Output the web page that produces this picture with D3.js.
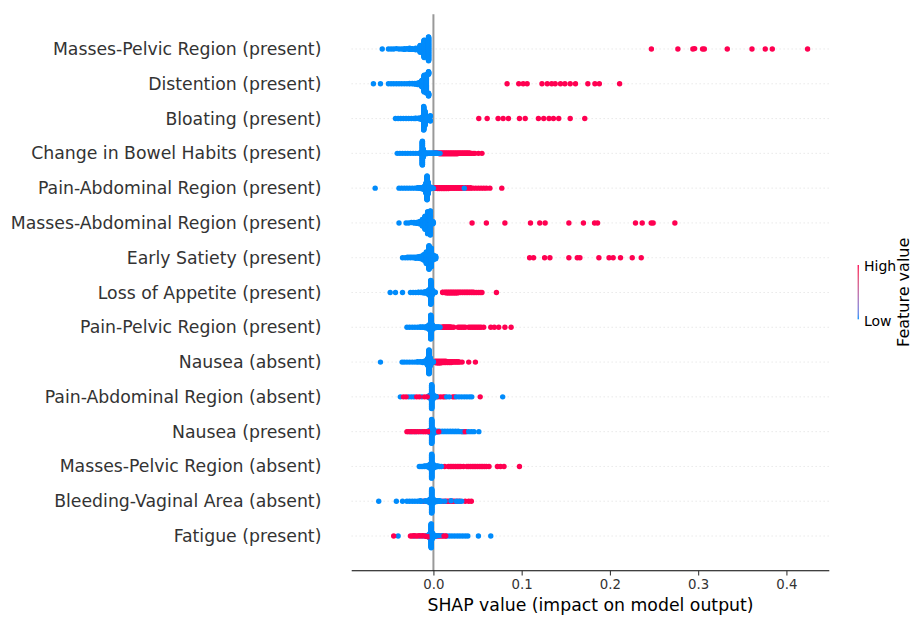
<!DOCTYPE html>
<html><head><meta charset="utf-8">
<script src="https://cdn.jsdelivr.net/npm/d3@7"></script>
<style>
body{margin:0;background:#fff}
svg{display:block;font-family:"DejaVu Sans",sans-serif}
</style></head>
<body><svg id="chart" width="912" height="617"></svg>
<script>
// ---------------- DATA ----------------
const features = [
  "Masses-Pelvic Region (present)",
  "Distention (present)",
  "Bloating (present)",
  "Change in Bowel Habits (present)",
  "Pain-Abdominal Region (present)",
  "Masses-Abdominal Region (present)",
  "Early Satiety (present)",
  "Loss of Appetite (present)",
  "Pain-Pelvic Region (present)",
  "Nausea (absent)",
  "Pain-Abdominal Region (absent)",
  "Nausea (present)",
  "Masses-Pelvic Region (absent)",
  "Bleeding-Vaginal Area (absent)",
  "Fatigue (present)"
];

// [SHAP value, number of samples] for low feature value (blue)
const lowPoints = [
  [[-0.058,1],[-0.051,1],[-0.048,1],[-0.045,1],[-0.042,1],[-0.039,1],[-0.036,1],[-0.033,2],[-0.030,2],[-0.027,2],[-0.024,3],[-0.020,5],[-0.015,18],[-0.0105,44],[-0.0055,60]],
  [[-0.068,1],[-0.060,1],[-0.051,1],[-0.048,1],[-0.045,1],[-0.042,1],[-0.039,1],[-0.036,1],[-0.033,1],[-0.030,1],[-0.027,2],[-0.024,2],[-0.021,3],[-0.018,5],[-0.0155,8],[-0.013,20],[-0.0105,50],[-0.008,55],[-0.0055,18]],
  [[-0.043,1],[-0.040,1],[-0.037,1],[-0.034,1],[-0.031,1],[-0.028,1],[-0.025,1],[-0.022,1],[-0.020,2],[-0.017,2],[-0.015,3],[-0.013,6],[-0.011,50],[-0.0095,30],[-0.007,6],[-0.005,8],[-0.0035,4]],
  [[-0.041,1],[-0.038,1],[-0.035,1],[-0.032,1],[-0.029,1],[-0.026,1],[-0.023,1],[-0.020,1],[-0.017,1],[-0.015,2],[-0.0135,6],[-0.0125,60],[-0.0115,20],[-0.010,4],[-0.008,3],[-0.006,2],[-0.004,2],[-0.002,2],[0.000,2],[0.002,2],[0.004,2],[0.006,1],[0.0075,1]],
  [[-0.066,1],[-0.039,1],[-0.036,1],[-0.033,1],[-0.030,1],[-0.027,1],[-0.024,1],[-0.021,1],[-0.018,2],[-0.016,2],[-0.014,3],[-0.012,5],[-0.010,10],[-0.0085,25],[-0.0072,60],[-0.006,30],[-0.0045,8],[-0.003,3],[-0.0015,2],[0.000,1],[0.035,1]],
  [[-0.039,1],[-0.031,1],[-0.028,1],[-0.025,1],[-0.022,2],[-0.019,3],[-0.016,6],[-0.0125,16],[-0.0095,30],[-0.0065,50],[-0.0035,55],[-0.0005,6]],
  [[-0.035,1],[-0.032,1],[-0.029,2],[-0.026,2],[-0.023,2],[-0.020,3],[-0.017,4],[-0.014,6],[-0.011,12],[-0.008,25],[-0.005,50],[-0.0025,40],[0.000,10],[0.0025,6]],
  [[-0.049,1],[-0.043,1],[-0.035,1],[-0.026,1],[-0.023,1],[-0.020,1],[-0.017,2],[-0.014,2],[-0.011,3],[-0.009,4],[-0.007,6],[-0.005,14],[-0.003,60],[-0.0015,14],[0.000,4],[0.002,2]],
  [[-0.030,1],[-0.027,1],[-0.024,1],[-0.021,1],[-0.018,1],[-0.015,2],[-0.012,2],[-0.009,3],[-0.007,4],[-0.005,12],[-0.003,60],[-0.0015,14],[0.000,5],[0.002,3],[0.004,2],[0.006,2],[0.0075,1]],
  [[-0.060,1],[-0.0355,1],[-0.033,1],[-0.030,1],[-0.027,1],[-0.024,1],[-0.021,1],[-0.018,2],[-0.015,2],[-0.012,3],[-0.010,4],[-0.008,8],[-0.0065,18],[-0.005,60],[-0.0035,20],[-0.002,5],[0.000,2]],
  [[-0.0375,1],[-0.028,1],[-0.025,1],[-0.022,1],[-0.013,1],[-0.006,2],[-0.004,8],[-0.002,60],[-0.0005,12],[0.001,3],[0.003,2],[0.015,1],[0.018,1],[0.026,1],[0.029,1],[0.032,1],[0.035,1],[0.038,1],[0.041,1],[0.0435,1],[0.0785,1]],
  [[-0.026,1],[-0.020,1],[-0.014,1],[-0.006,2],[-0.004,6],[-0.002,60],[-0.0005,14],[0.001,4],[0.003,3],[0.005,2],[0.007,2],[0.010,2],[0.013,2],[0.016,2],[0.019,2],[0.022,2],[0.025,2],[0.028,2],[0.031,1],[0.034,1],[0.037,1],[0.040,1],[0.043,1],[0.046,1],[0.0515,1]],
  [[-0.016,1],[-0.014,1],[-0.012,1],[-0.010,2],[-0.008,2],[-0.006,4],[-0.004,10],[-0.002,60],[-0.0005,12],[0.001,5],[0.003,3],[0.005,2],[0.007,1],[0.009,1]],
  [[-0.062,1],[-0.042,1],[-0.035,1],[-0.030,1],[-0.027,1],[-0.024,1],[-0.021,1],[-0.018,1],[-0.015,2],[-0.013,1],[-0.009,2],[-0.006,3],[-0.004,10],[-0.002,60],[-0.0005,12],[0.001,4],[0.003,3],[0.005,2],[0.007,2],[0.009,1],[0.013,1],[0.020,1],[0.026,1],[0.029,1],[0.032,1]],
  [[-0.040,1],[-0.022,1],[-0.016,1],[-0.012,1],[-0.008,2],[-0.006,4],[-0.004,12],[-0.0025,60],[-0.001,14],[0.001,4],[0.003,2],[0.006,1],[0.010,1],[0.015,1],[0.018,1],[0.021,1],[0.024,1],[0.027,1],[0.030,1],[0.033,1],[0.036,1],[0.039,1],[0.051,1],[0.065,1]]
];

// [SHAP value, number of samples] for high feature value (red)
const highPoints = [
  [[0.247,1],[0.277,1],[0.294,1],[0.296,1],[0.305,1],[0.307,1],[0.333,1],[0.361,1],[0.376,1],[0.384,1],[0.424,1]],
  [[0.0835,1],[0.0967,1],[0.1017,1],[0.1062,1],[0.123,1],[0.129,1],[0.134,1],[0.138,1],[0.144,1],[0.149,1],[0.155,1],[0.161,1],[0.175,1],[0.183,1],[0.188,1],[0.211,1]],
  [[0.0514,1],[0.0609,1],[0.0733,1],[0.079,1],[0.085,1],[0.0975,1],[0.104,1],[0.119,1],[0.125,1],[0.131,1],[0.136,1],[0.142,1],[0.155,1],[0.1715,1]],
  [[0.001,2],[0.003,2],[0.005,2],[0.007,3],[0.009,3],[0.011,3],[0.013,3],[0.015,3],[0.017,3],[0.019,3],[0.021,3],[0.023,3],[0.025,3],[0.027,3],[0.029,2],[0.031,2],[0.033,2],[0.035,2],[0.037,2],[0.039,2],[0.041,2],[0.043,1],[0.045,1],[0.047,1],[0.051,1],[0.055,1]],
  [[0.001,2],[0.003,2],[0.005,3],[0.007,3],[0.009,3],[0.011,3],[0.013,3],[0.015,3],[0.017,3],[0.019,2],[0.021,2],[0.023,2],[0.025,2],[0.027,2],[0.029,2],[0.031,2],[0.033,2],[0.036,2],[0.039,2],[0.042,2],[0.045,1],[0.048,1],[0.051,1],[0.054,1],[0.057,1],[0.060,1],[0.064,1],[0.0775,1]],
  [[0.0438,1],[0.060,1],[0.081,1],[0.110,1],[0.1205,1],[0.1266,1],[0.1535,1],[0.170,1],[0.1826,1],[0.186,1],[0.229,1],[0.2366,1],[0.2468,1],[0.249,1],[0.2736,1]],
  [[0.109,1],[0.1135,1],[0.126,1],[0.132,1],[0.1535,1],[0.163,1],[0.166,1],[0.1875,1],[0.199,1],[0.2037,1],[0.212,1],[0.2253,1],[0.2355,1]],
  [[0.0105,2],[0.013,2],[0.015,3],[0.017,3],[0.019,3],[0.021,3],[0.023,3],[0.025,3],[0.027,3],[0.029,2],[0.031,2],[0.033,2],[0.035,2],[0.037,2],[0.039,2],[0.041,2],[0.043,2],[0.045,2],[0.047,1],[0.049,1],[0.051,1],[0.053,1],[0.055,1],[0.0714,1]],
  [[0.009,1],[0.011,2],[0.013,2],[0.015,2],[0.017,2],[0.019,2],[0.021,1],[0.023,1],[0.028,1],[0.030,1],[0.032,1],[0.034,1],[0.036,1],[0.040,1],[0.042,1],[0.044,1],[0.046,1],[0.048,1],[0.050,1],[0.052,1],[0.054,1],[0.057,1],[0.065,1],[0.069,1],[0.074,1],[0.081,1],[0.088,1]],
  [[0.002,4],[0.004,5],[0.006,5],[0.008,5],[0.010,4],[0.012,4],[0.014,4],[0.016,3],[0.018,3],[0.020,3],[0.022,2],[0.024,2],[0.026,2],[0.028,2],[0.030,1],[0.0325,1],[0.040,1],[0.0476,1]],
  [[-0.034,1],[-0.031,1],[-0.019,1],[-0.016,1],[-0.010,1],[-0.007,1],[0.005,1],[0.008,1],[0.011,1],[0.013,1],[0.022,1],[0.024,1],[0.053,1]],
  [[-0.030,1],[-0.028,1],[-0.025,1],[-0.023,1],[-0.021,1],[-0.018,1],[-0.016,1],[-0.012,1],[-0.010,1],[-0.008,1],[-0.005,1],[0.001,1],[0.004,1],[0.006,1],[0.033,1],[0.036,1]],
  [[0.0128,1],[0.017,1],[0.019,1],[0.021,1],[0.023,1],[0.025,1],[0.027,1],[0.029,1],[0.031,1],[0.034,1],[0.038,1],[0.040,1],[0.042,1],[0.044,1],[0.046,1],[0.048,1],[0.050,1],[0.052,1],[0.054,1],[0.056,1],[0.058,1],[0.060,1],[0.063,1],[0.0725,1],[0.076,1],[0.080,1],[0.0975,1]],
  [[-0.011,1],[0.011,1],[0.014,1],[0.016,1],[0.018,1],[0.020,1],[0.022,1],[0.024,1],[0.027,1],[0.030,1],[0.036,1],[0.040,1],[0.043,1]],
  [[-0.045,1],[-0.026,1],[-0.024,1],[-0.022,1],[-0.020,1],[-0.018,1],[-0.016,1],[-0.014,1],[-0.012,1],[-0.010,1],[-0.008,1],[-0.006,1],[0.000,1],[0.002,1],[0.004,1],[0.006,1],[0.008,1],[0.010,1],[0.012,1],[0.014,1]]
];

const xTicks = [0.0, 0.1, 0.2, 0.3, 0.4];
const xLabel = "SHAP value (impact on model output)";
const colorbarLabels = ["Low", "High"];
const colorbarTitle = "Feature value";
const lowColor = "#008bfb", highColor = "#ff0051";

// ---------------- LAYOUT ----------------
const svg = d3.select("#chart");
const plot = {left: 351.7, right: 829.3, top: 14.2, bottom: 570.8};
const nF = features.length;

const allVals = [];
lowPoints.forEach(r => r.forEach(d => allVals.push(d[0])));
highPoints.forEach(r => r.forEach(d => allVals.push(d[0])));
const vmin = d3.min(allVals), vmax = d3.max(allVals), span = vmax - vmin;
const x = d3.scaleLinear().domain([vmin - 0.05*span, vmax + 0.05*span]).range([plot.left, plot.right]);
const y = d3.scaleLinear().domain([-1, nF]).range([plot.bottom, plot.top]);

// row guide lines
const gGrid = svg.append("g");
features.forEach((f, i) => {
  const pos = nF - 1 - i;
  gGrid.append("line").attr("x1", plot.left).attr("x2", plot.right)
    .attr("y1", y(pos)).attr("y2", y(pos))
    .attr("stroke", "#cccccc").attr("stroke-width", 0.8).attr("stroke-dasharray", "0.8 3.2");
});
// zero line
svg.append("line").attr("x1", x(0)).attr("x2", x(0)).attr("y1", plot.top).attr("y2", plot.bottom)
  .attr("stroke", "#999999").attr("stroke-width", 2);

// points
function expand(list, hi) {
  const out = [];
  list.forEach(([v, n]) => { for (let k = 0; k < n; k++) out.push({v, hi}); });
  return out;
}
function interleave(a, b) {
  const out = []; let i = 0, j = 0;
  while (i < a.length || j < b.length) {
    if (j >= b.length || (i < a.length && (i + 0.5) / a.length <= (j + 0.5) / b.length)) out.push(a[i++]);
    else out.push(b[j++]);
  }
  return out;
}
const gPts = svg.append("g");
features.forEach((f, i) => {
  const pos = nF - 1 - i;
  const pts = interleave(expand(lowPoints[i], 0), expand(highPoints[i], 1));
  const mn = d3.min(pts, p => p.v), mx = d3.max(pts, p => p.v);
  const quant = pts.map(p => Math.round(100 * (p.v - mn) / (mx - mn + 1e-8)));
  const order = d3.range(pts.length).sort((a, b) => quant[a] - quant[b] || a - b);
  const ys = new Array(pts.length).fill(0);
  let layer = 0, last = -1;
  order.forEach(k => {
    if (quant[k] !== last) layer = 0;
    ys[k] = Math.ceil(layer / 2) * ((layer % 2) * 2 - 1);
    layer++; last = quant[k];
  });
  const sc = 0.9 * (0.4 / (d3.max(ys) + 1));
  gPts.selectAll(null).data(pts).enter().append("circle")
    .attr("cx", p => x(p.v))
    .attr("cy", (p, k) => y(pos + ys[k] * sc))
    .attr("r", 2.7)
    .attr("fill", p => p.hi ? highColor : lowColor);
});

// y labels
svg.append("g").selectAll("text").data(features).enter().append("text")
  .attr("x", 321.4).attr("y", (d, i) => y(nF - 1 - i) + 6)
  .attr("text-anchor", "end").attr("font-size", "17.3px").attr("fill", "#333333")
  .text(d => d);

// x axis
const ax = svg.append("g").attr("transform", `translate(0,${plot.bottom})`)
  .call(d3.axisBottom(x).tickValues(xTicks).tickFormat(d3.format(".1f")).tickSizeOuter(0).tickSize(4.7).tickPadding(4.3));
ax.select(".domain").attr("stroke", "#000").attr("stroke-width", 1.07).attr("d", `M${plot.left},0H${plot.right}`);
ax.selectAll(".tick line").attr("stroke", "#333333").attr("stroke-width", 1.07);
ax.selectAll(".tick text").attr("fill", "#333333").attr("font-size", "13.3px")
  .attr("font-family", "DejaVu Sans").attr("dy", "0.71em");

svg.append("text").attr("x", (plot.left + plot.right) / 2).attr("y", 611)
  .attr("text-anchor", "middle").attr("font-size", "17.3px").attr("fill", "#000").text(xLabel);

// colorbar
const cb = {x: 857.6, w: 1.3, top: 265, bottom: 319.3};
const grad = svg.append("defs").append("linearGradient").attr("id", "cbg")
  .attr("x1", 0).attr("x2", 0).attr("y1", 1).attr("y2", 0);
const interp = d3.interpolateLab(lowColor, highColor);
d3.range(0, 1.0001, 0.1).forEach(t => grad.append("stop").attr("offset", t).attr("stop-color", interp(t)));
svg.append("rect").attr("x", cb.x).attr("y", cb.top).attr("width", cb.w).attr("height", cb.bottom - cb.top)
  .attr("fill", "url(#cbg)");
svg.append("text").attr("x", 864).attr("y", cb.top + 5.5).attr("font-size", "14px").attr("fill", "#000").text(colorbarLabels[1]);
svg.append("text").attr("x", 864).attr("y", cb.bottom + 6.5).attr("font-size", "14px").attr("fill", "#000").text(colorbarLabels[0]);
svg.append("text").attr("transform", "translate(908.5,292.3) rotate(-90)").attr("text-anchor", "middle")
  .attr("font-size", "16px").attr("fill", "#000").text(colorbarTitle);
</script>
</body></html>
